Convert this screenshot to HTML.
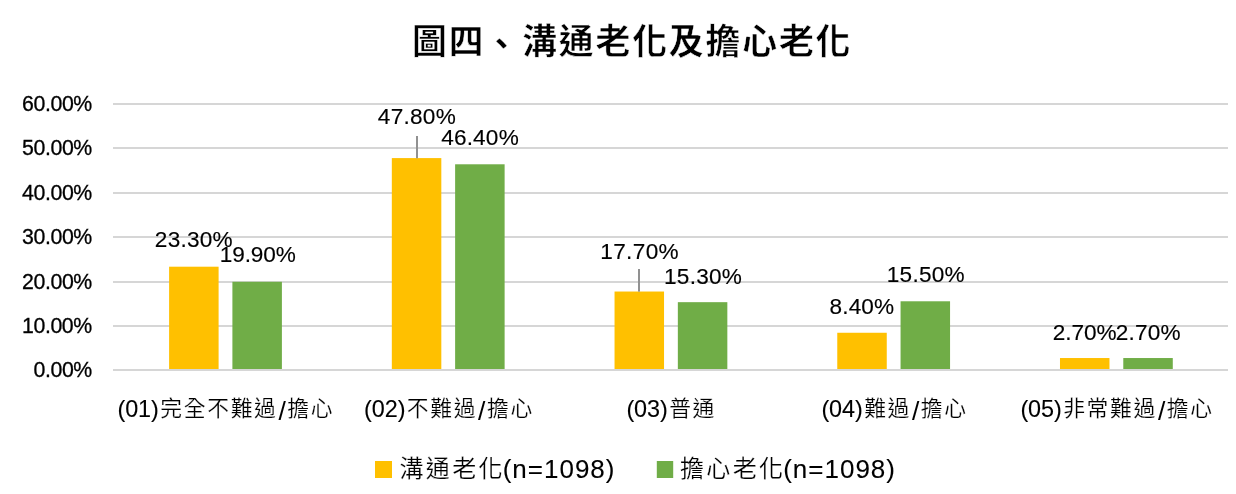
<!DOCTYPE html>
<html lang="zh-Hant"><head><meta charset="utf-8"><title>圖四、溝通老化及擔心老化</title>
<style>
html,body{margin:0;padding:0;background:#fff;}
body{width:1236px;height:494px;overflow:hidden;}
svg{display:block;}
text{font-family:"Liberation Sans", "Noto Sans CJK TC", sans-serif;fill:#000;}
.l{stroke:#000;stroke-width:0.3px;}
.m{stroke:#000;stroke-width:0.15px;}
.n{stroke:#000;stroke-width:0.1px;}
.c{stroke:#fff;stroke-width:0.22px;}
.ttl{font-weight:700;stroke:#fff;stroke-width:0.45px;}
</style></head><body>
<svg width="1236" height="494" viewBox="0 0 1236 494">
<rect width="1236" height="494" fill="#fff"/>
<g fill="#d6d6d6">
<rect x="113" y="369" width="1115" height="2"/>
<rect x="113" y="325" width="1115" height="2"/>
<rect x="113" y="281" width="1115" height="2"/>
<rect x="113" y="236" width="1115" height="2"/>
<rect x="113" y="192" width="1115" height="2"/>
<rect x="113" y="147" width="1115" height="2"/>
<rect x="113" y="103" width="1115" height="2"/>
</g>
<g class="l">
<text x="33.6" y="377" style="font-size:21.3px;letter-spacing:-0.43px">0.00%</text>
<text x="22.07" y="333" style="font-size:21.3px;letter-spacing:-0.41px">10.00%</text>
<text x="22.08" y="289" style="font-size:21.3px;letter-spacing:-0.41px">20.00%</text>
<text x="22.1" y="244" style="font-size:21.3px;letter-spacing:-0.41px">30.00%</text>
<text x="22.1" y="200" style="font-size:21.3px;letter-spacing:-0.41px">40.00%</text>
<text x="22.09" y="155" style="font-size:21.3px;letter-spacing:-0.41px">50.00%</text>
<text x="22.08" y="111" style="font-size:21.3px;letter-spacing:-0.41px">60.00%</text>
</g>
<rect x="169.1" y="266.7" width="49.5" height="102.3" fill="#ffc000"/>
<rect x="232.4" y="281.78" width="49.5" height="87.22" fill="#70ad47"/>
<rect x="391.82" y="158.09" width="49.5" height="210.91" fill="#ffc000"/>
<rect x="455.12" y="164.29" width="49.5" height="204.71" fill="#70ad47"/>
<rect x="614.54" y="291.53" width="49.5" height="77.47" fill="#ffc000"/>
<rect x="677.84" y="302.17" width="49.5" height="66.83" fill="#70ad47"/>
<rect x="837.26" y="332.76" width="49.5" height="36.24" fill="#ffc000"/>
<rect x="900.56" y="301.28" width="49.5" height="67.72" fill="#70ad47"/>
<rect x="1059.98" y="358.03" width="49.5" height="10.97" fill="#ffc000"/>
<rect x="1123.28" y="358.03" width="49.5" height="10.97" fill="#70ad47"/>
<rect x="416" y="136" width="2" height="22.3" fill="#919191"/>
<rect x="638" y="269" width="2" height="22.6" fill="#919191"/>
<g class="m">
<text x="154.87" y="247.2" style="font-size:22.6px;letter-spacing:0.23px">23.30%</text>
<text x="219.82" y="262.1" style="font-size:22.6px;letter-spacing:-0.12px">19.90%</text>
<text x="377.85" y="124.3" style="font-size:22.6px;letter-spacing:0.25px">47.80%</text>
<text x="441.15" y="145.3" style="font-size:22.6px;letter-spacing:0.19px">46.40%</text>
<text x="600.32" y="258.7" style="font-size:22.6px;letter-spacing:0.34px">17.70%</text>
<text x="664.02" y="283.6" style="font-size:22.6px;letter-spacing:0.24px">15.30%</text>
<text x="829.5" y="313.6" style="font-size:22.6px;letter-spacing:0.15px">8.40%</text>
<text x="886.82" y="282.2" style="font-size:22.6px;letter-spacing:0.24px">15.50%</text>
<text x="1052.77" y="339.5" style="font-size:22.6px;letter-spacing:-0.05px">2.70%</text>
<text x="1115.87" y="339.5" style="font-size:22.6px;letter-spacing:0.18px">2.70%</text>
</g>
<text><tspan class="n" x="117.5" y="417.3" style="font-size:23.4px;letter-spacing:-0.09px;">(01)</tspan><tspan class="c" x="160.24" y="416.2" style="font-size:21.8px;letter-spacing:1.67px;">完全不難過</tspan><tspan x="278.45" y="419.6" style="font-size:26.5px;">/</tspan><tspan class="c" x="287.28" y="416.2" style="font-size:21.8px;letter-spacing:1.67px;">擔心</tspan></text>
<text><tspan class="n" x="364.1" y="417.3" style="font-size:23.4px;letter-spacing:-0.09px;">(02)</tspan><tspan class="c" x="406.83" y="416.2" style="font-size:21.8px;letter-spacing:1.67px;">不難過</tspan><tspan x="478.11" y="419.6" style="font-size:26.5px;">/</tspan><tspan class="c" x="486.94" y="416.2" style="font-size:21.8px;letter-spacing:1.67px;">擔心</tspan></text>
<text><tspan class="n" x="626.4" y="417.3" style="font-size:23.4px;letter-spacing:-0.09px;">(03)</tspan><tspan class="c" x="669.13" y="416.2" style="font-size:21.8px;letter-spacing:1.67px;">普通</tspan></text>
<text><tspan class="n" x="821.4" y="417.3" style="font-size:23.4px;letter-spacing:-0.09px;">(04)</tspan><tspan class="c" x="864.13" y="416.2" style="font-size:21.8px;letter-spacing:1.67px;">難過</tspan><tspan x="911.94" y="419.6" style="font-size:26.5px;">/</tspan><tspan class="c" x="920.78" y="416.2" style="font-size:21.8px;letter-spacing:1.67px;">擔心</tspan></text>
<text><tspan class="n" x="1020.4" y="417.3" style="font-size:23.4px;letter-spacing:-0.09px;">(05)</tspan><tspan class="c" x="1063.13" y="416.2" style="font-size:21.8px;letter-spacing:1.67px;">非常難過</tspan><tspan x="1157.88" y="419.6" style="font-size:26.5px;">/</tspan><tspan class="c" x="1166.71" y="416.2" style="font-size:21.8px;letter-spacing:1.67px;">擔心</tspan></text>
<rect x="375" y="461" width="17" height="17" fill="#ffc000"/>
<rect x="656.8" y="461" width="16.4" height="17" fill="#70ad47"/>
<text><tspan class="c" x="399.55" y="477.2" style="font-size:24px;letter-spacing:2.3px;">溝通老化</tspan><tspan class="n" x="502.64" y="477.5" style="font-size:26px;letter-spacing:1.01px;">(n=1098)</tspan></text>
<text><tspan class="c" x="680.05" y="477.2" style="font-size:24px;letter-spacing:2.3px;">擔心老化</tspan><tspan class="n" x="783.14" y="477.5" style="font-size:26px;letter-spacing:1.01px;">(n=1098)</tspan></text>
<text class="ttl" x="412.1" y="53.5" style="font-size:34.8px;letter-spacing:1.88px">圖四<tspan dx="-1.5" dy="3.5">、</tspan><tspan dx="1.5" dy="-3.5">溝通老化及擔心老化</tspan></text>
</svg></body></html>
